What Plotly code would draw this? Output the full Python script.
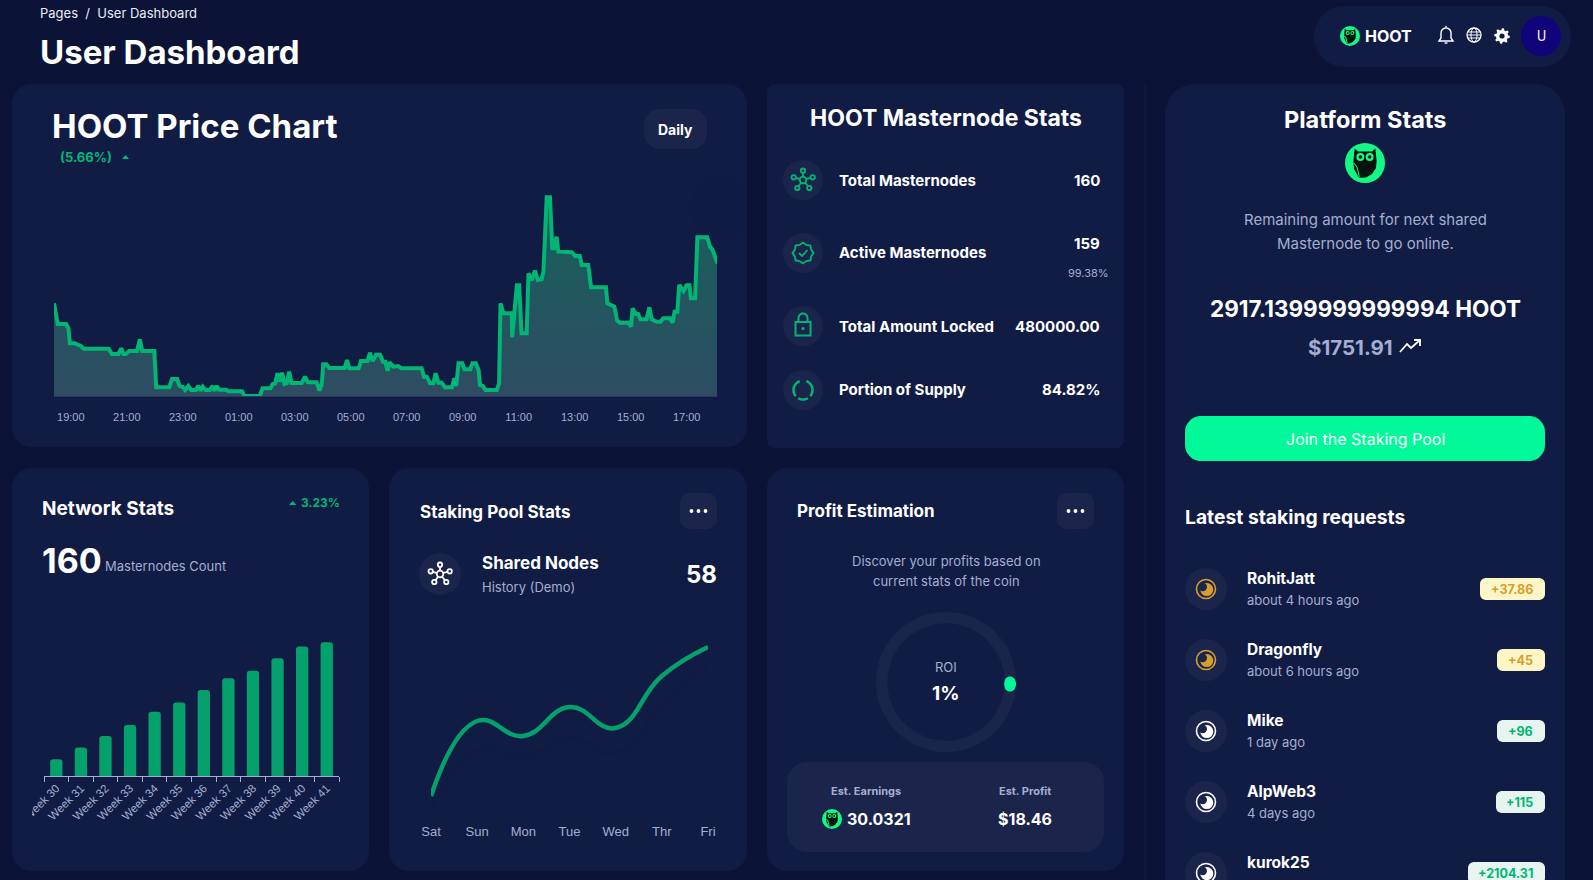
import numpy as np
import plotly.graph_objects as go

W, H = 1593, 880

BG = '#0b1336'
CARD = '#111c44'
PANEL = '#1b254b'
WHITE = '#ffffff'
GRAY = '#a3aed0'
GREEN = '#01b574'
BAR_GREEN = '#04a16c'
NEON = '#01f99a'
FONT = 'Inter'
AXIS_FONT = 'Liberation Sans'

# price chart, minutes after 19:00 and height of the price line
price_minutes = [-36, -28, -10, -5, -2, 9, 16, 21, 28, 81, 88, 102, 108, 113, 118, 125, 142, 148, 153, 179,
                 183, 211, 217, 228, 233, 240, 245, 252, 258, 268, 273, 278, 283, 289, 298, 304, 308, 313, 318, 333,
                 338, 367, 372, 405, 411, 428, 433, 438, 443, 448, 453, 458, 463, 468, 473, 495, 502, 508, 527, 533,
                 538, 541, 548, 554, 587, 592, 597, 617, 622, 636, 641, 647, 654, 663,
                 669, 674, 679, 683, 692, 702, 709, 752, 757, 763, 770, 777, 782, 788, 795, 802, 817, 822, 826, 831,
                 839, 844, 856, 861, 868, 874, 877, 883, 889, 913, 918, 921, 927, 945, 946, 956, 961, 966, 977, 981,
                 988, 995, 1001, 1009, 1013, 1020, 1027, 1032, 1036, 1041, 1045, 1074, 1081, 1091, 1095, 1109, 1115,
                 1147, 1150, 1159, 1165, 1171, 1177, 1195, 1201, 1204, 1211, 1216, 1221, 1234, 1240, 1245, 1256, 1264,
                 1270, 1284, 1290, 1294, 1300, 1304, 1313, 1320, 1326, 1329, 1338, 1343, 1364, 1370, 1375, 1386]
price_values = [92.7, 72, 72, 67.7, 52.7, 52.7, 51, 50.3, 47.3, 47.3, 42, 42, 47.7, 42, 42, 45, 45, 56.7, 45, 45,
                8.7, 8.7, 17, 17, 10, 9.3, 6, 10, 6, 6, 10.3, 5.3, 9.3, 6, 6, 10, 5.3, 10, 6.3, 6.3,
                4.7, 4.7, 0.3, 0, 7.7, 7.7, 12, 12.7, 22.7, 14.3, 23.3, 12, 12.7, 24.3, 13, 13, 19.3, 13.7, 13.7, 5.3,
                12, 31.7, 31.7, 28, 28, 36, 27.7, 27.7, 35, 35, 43.3, 35, 41.3, 41.3,
                34.3, 34.3, 25.3, 33.7, 29.3, 30, 27.7, 27.7, 19.3, 19.3, 12.7, 12.7, 22.7, 13.3, 13.3, 8.7, 8.7, 17.7, 10, 32.7,
                32.7, 26.7, 26.7, 32.7, 32.7, 26, 11, 10, 6, 6, 12.7, 92.7, 82.7, 82.7, 58.7, 110.7, 110.7, 62.7, 62.7, 122.7,
                116, 125.3, 116, 116.7, 124.3, 198.7, 198.7, 147.7, 147.7, 159.3, 144.3, 143.7, 140, 140, 131, 131, 108.7,
                108.7, 92.7, 90, 89.3, 75.3, 73.3, 73.3, 69.3, 87.7, 82, 82, 76.7, 76.7, 88.7, 76.7, 74.3, 74.3,
                77.7, 77.7, 73.3, 84.3, 84.3, 111, 105, 110.7, 110.7, 97.7, 97.7, 158.7, 158.7, 149.3, 146.7, 132.7]
price_tick_minutes = [0, 120, 240, 360, 480, 600, 720, 840, 960, 1080, 1200, 1320]
price_tick_labels = ['19:00', '21:00', '23:00', '01:00', '03:00', '05:00',
                     '07:00', '09:00', '11:00', '13:00', '15:00', '17:00']

weeks = ['Week 30', 'Week 31', 'Week 32', 'Week 33', 'Week 34', 'Week 35',
         'Week 36', 'Week 37', 'Week 38', 'Week 39', 'Week 40', 'Week 41']
masternodes = [20, 34, 48, 61, 77, 88, 103, 117, 126, 141, 155, 160]

weekdays = ['Sat', 'Sun', 'Mon', 'Tue', 'Wed', 'Thr', 'Fri']
shared_nodes = [14, 89, 74, 103, 82, 134, 163]
shared_nodes_prev = [0, 60, 53, 72, 57, 103, 145]

roi_share = [1, 99]

stat_labels = ['Total Masternodes', 'Active Masternodes', 'Total Amount Locked', 'Portion of Supply']
stat_values = ['160', '159', '480000.00', '84.82%']

request_names = ['RohitJatt', 'Dragonfly', 'Mike', 'AlpWeb3', 'kurok25']
request_times = ['about 4 hours ago', 'about 6 hours ago', '1 day ago', '4 days ago', '']
request_amounts = ['+37.86', '+45', '+96', '+115', '+2104.31']

shapes = []
notes = []


def pt(x, y):
    return f'{x / W:.5f},{1 - y / H:.5f}'


def draw(points, fill=None, color=None, width=0, closed=True, layer='below'):
    d = 'M' + 'L'.join(pt(x, y) for x, y in points) + ('Z' if closed else '')
    shapes.append(dict(type='path', xref='paper', yref='paper', path=d, layer=layer,
                       fillcolor=fill or 'rgba(0,0,0,0)',
                       line=dict(color=color or 'rgba(0,0,0,0)', width=width)))


def arc(cx, cy, r, a0, a1, n=14):
    return [(cx + r * np.cos(a), cy + r * np.sin(a)) for a in np.radians(np.linspace(a0, a1, n))]


def rrect(x0, y0, x1, y1, r, fill, layer='below'):
    pts = arc(x1 - r, y0 + r, r, -90, 0) + arc(x1 - r, y1 - r, r, 0, 90) \
        + arc(x0 + r, y1 - r, r, 90, 180) + arc(x0 + r, y0 + r, r, 180, 270)
    draw(pts, fill=fill, layer=layer)


def circle(cx, cy, r, fill=None, color=None, width=0):
    shapes.append(dict(type='circle', xref='paper', yref='paper', layer='below',
                       x0=(cx - r) / W, x1=(cx + r) / W, y0=1 - (cy + r) / H, y1=1 - (cy - r) / H,
                       fillcolor=fill or 'rgba(0,0,0,0)',
                       line=dict(color=color or 'rgba(0,0,0,0)', width=width)))


def text(x, y, s, size, color=WHITE, anchor='left', bold=False, font=FONT):
    notes.append(dict(xref='paper', yref='paper', x=x / W, y=1 - y / H, showarrow=False,
                      text=f'<b>{s}</b>' if bold else s, xanchor=anchor, yanchor='middle',
                      borderpad=0, borderwidth=0,
                      font=dict(family=font, size=size, color=color)))


def owl(cx, cy, r):
    circle(cx, cy, r, fill='#12fa84')
    body = [(-0.52, -0.72), (-0.35, -0.58), (0.35, -0.58), (0.52, -0.72), (0.58, -0.1), (0.55, 0.25),
            (0.35, 0.55), (0.05, 0.72), (-0.3, 0.74), (-0.55, 0.3), (-0.58, -0.1)]
    draw([(cx + a * r, cy + b * r) for a, b in body], fill='#03140e')
    draw([(cx - 0.55 * r, cy), (cx - 0.4 * r, cy + 0.2 * r), (cx - 0.28 * r, cy + 0.7 * r)],
         color='#12fa84', width=1, closed=False)
    for side in (-1, 1):
        circle(cx + side * 0.23 * r, cy - 0.3 * r, 0.2 * r, fill='#12fa84')
        circle(cx + side * 0.23 * r, cy - 0.3 * r, 0.09 * r, fill='#03140e')


def network(cx, cy, color, k=1.0):
    sats = [(0, -9.3), (9.7, -2.7), (6.3, 8), (-5.7, 8), (-9.3, -2.7)]
    for dx, dy in sats:
        draw([(cx + 0.3 * dx * k, cy + 0.3 * dy * k), (cx + 0.75 * dx * k, cy + 0.75 * dy * k)],
             color=color, width=1.8, closed=False)
        circle(cx + dx * k, cy + dy * k, 2.2 * k, color=color, width=1.8)
    circle(cx, cy, 3.3 * k, color=color, width=1.8)


def badge_icon(cx, cy, color):
    ang = np.radians(np.arange(0, 360, 22.5))
    rad = [10.5 if i % 2 == 0 else 8.8 for i in range(16)]
    draw([(cx + r * np.cos(a), cy + r * np.sin(a)) for a, r in zip(ang, rad)], color=color, width=1.8)
    draw([(cx - 4, cy), (cx - 1, cy + 3), (cx + 4.5, cy - 3)], color=color, width=1.8, closed=False)


def lock_icon(cx, cy, color):
    draw([(cx - 7.5, cy - 4), (cx + 7.5, cy - 4), (cx + 7.5, cy + 9.5), (cx - 7.5, cy + 9.5)], color=color, width=2)
    draw(arc(cx, cy - 8, 4.5, 180, 360), color=color, width=2, closed=False)
    draw([(cx - 4.5, cy - 8), (cx - 4.5, cy - 4)], color=color, width=2, closed=False)
    draw([(cx + 4.5, cy - 8), (cx + 4.5, cy - 4)], color=color, width=2, closed=False)
    circle(cx, cy + 2.5, 1.6, fill=color)


def moon(cx, cy, color):
    circle(cx, cy, 9.5, color=color, width=1.6)
    circle(cx + 0.8, cy + 0.6, 6.5, fill=color)
    circle(cx - 3.2, cy - 2, 4.2, fill=PANEL)


def dots_button(x0, x1, y0, y1):
    rrect(x0, y0, x1, y1, 10, PANEL)
    for dx in (-7, 0, 7):
        circle((x0 + x1) / 2 + dx, (y0 + y1) / 2, 1.9, fill=WHITE)


# page and cards
rrect(12, 84, 747, 447, 20, CARD)
rrect(767, 84, 1124, 448, 8, CARD)
rrect(12, 468, 369, 871, 20, CARD)
rrect(389, 468, 747, 871, 20, CARD)
rrect(767, 468, 1124, 871, 20, CARD)
rrect(1165, 84, 1565, 930, 30, CARD)
rrect(1314, 6, 1571, 67, 30, CARD)
draw([(1145, 84), (1145, 880)], color='#141d45', width=1, closed=False)
# faint round decoration on the price card, stops at the card edge
draw([(min(x, 747), y) for x, y in arc(722, 208, 32, 0, 360, 40)], fill='#101b43')

# header
text(40, 13, 'Pages&nbsp;&nbsp;/&nbsp;&nbsp;User Dashboard', 13, color='#e9edf7')
text(40, 52, 'User Dashboard', 33, bold=True)
owl(1350, 36, 10)
text(1365, 36, 'HOOT', 16, bold=True)
# bell
bell = arc(1446, 33, 5, 180, 360) + [(1451, 38), (1453, 41), (1439, 41), (1441, 38)]
draw(bell, color=WHITE, width=1.4)
draw([(1444.5, 43), (1447.5, 43)], color=WHITE, width=1.4, closed=False)
circle(1446, 26.5, 0.8, fill=WHITE)
# globe
circle(1474, 35, 7, color=WHITE, width=1.3)
draw([(1474 + 3 * np.cos(a), 35 + 7 * np.sin(a)) for a in np.radians(np.arange(0, 360, 20))], color=WHITE, width=1)
for dy in (-3, 0, 3):
    draw([(1467.5, 35 + dy), (1480.5, 35 + dy)], color=WHITE, width=1, closed=False)
# gear
gear_a = np.radians(np.arange(0, 360, 7.5))
draw([(1502 + (7.8 if i // 3 % 2 == 0 else 6) * np.cos(a), 36 + (7.8 if i // 3 % 2 == 0 else 6) * np.sin(a))
      for i, a in enumerate(gear_a)], fill=WHITE)
circle(1502, 36, 2.6, fill=CARD)
circle(1541, 36, 20, fill='#11047a')
text(1541, 36, 'U', 14, color='#f4f0d8', anchor='center', font='Roboto')

# price card
text(52, 126, 'HOOT Price Chart', 33, bold=True)
text(60, 157, '(5.66%)', 13, color=GREEN, bold=True)
draw([(122, 159), (129, 159), (125.5, 155)], fill=GREEN)
rrect(644, 109, 707, 149, 16, PANEL)
text(675.5, 129, 'Daily', 14, anchor='center', bold=True)

# masternode card
text(946, 118, 'HOOT Masternode Stats', 23, anchor='center', bold=True)
stat_y = [180, 253, 326, 390]
value_y = [180, 243, 326, 390]
for label, value, y, vy in zip(stat_labels, stat_values, stat_y, value_y):
    circle(803, y, 20, fill=PANEL)
    text(839, y, label, 15, bold=True)
    text(1100, vy, value, 15, anchor='right', bold=True)
text(1109, 273, '99.38%', 11, color=GRAY, anchor='right')
network(803, 180, GREEN)
badge_icon(803, 253, GREEN)
lock_icon(803, 326, GREEN)
for a0, a1 in [(-70, 40), (60, 120), (140, 250)]:
    draw(arc(803, 390, 9.5, a0, a1), color=GREEN, width=2.5, closed=False)

# network stats card
text(42, 508, 'Network Stats', 19, bold=True)
text(340, 503, '3.23%', 12, color=GREEN, anchor='right', bold=True)
draw([(289, 505), (296.5, 505), (292.7, 501)], fill=GREEN)
text(42, 560, '160', 34, bold=True)
text(105, 566, 'Masternodes Count', 13, color=GRAY)

# staking card
text(420, 512, 'Staking Pool Stats', 17, bold=True)
dots_button(680, 717, 493, 529)
circle(440, 574, 21, fill=PANEL)
network(440, 574, WHITE)
text(482, 563, 'Shared Nodes', 17, bold=True)
text(482, 587, 'History (Demo)', 13, color=GRAY)
text(717, 574, '58', 24, anchor='right', bold=True)

# profit card
text(797, 511, 'Profit Estimation', 17, bold=True)
dots_button(1057, 1094, 493, 529)
text(946, 561, 'Discover your profits based on', 13, color=GRAY, anchor='center')
text(946, 581, 'current stats of the coin', 13, color=GRAY, anchor='center')
text(946, 667, 'ROI', 13, color=GRAY, anchor='center')
text(946, 693, '1%', 19, anchor='center', bold=True)
rrect(787, 762, 1104, 852, 20, PANEL)
text(866, 791, 'Est. Earnings', 11, color=GRAY, anchor='center', bold=True)
text(1025, 791, 'Est. Profit', 11, color=GRAY, anchor='center', bold=True)
owl(832, 819, 10)
text(847, 819, '30.0321', 16, bold=True)
text(1025, 819, '$18.46', 16, anchor='center', bold=True)

# platform card
text(1365, 120, 'Platform Stats', 23.5, anchor='center', bold=True)
owl(1365, 163, 20)
text(1365, 219, 'Remaining amount for next shared', 15, color=GRAY, anchor='center')
text(1365, 243, 'Masternode to go online.', 15, color=GRAY, anchor='center')
text(1365, 308, '2917.1399999999994 HOOT', 22.5, anchor='center', bold=True)
text(1393, 347, '$1751.91', 20.5, color=GRAY, anchor='right', bold=True)
draw([(1400, 352), (1407, 344), (1411, 348), (1420, 340)], color=WHITE, width=1.8, closed=False)
draw([(1414, 340), (1420, 340), (1420, 346)], color=WHITE, width=1.8, closed=False)
rrect(1185, 416, 1545, 461, 16, NEON)
text(1365, 439, 'Join the Staking Pool', 16, anchor='center')
text(1185, 517, 'Latest staking requests', 19.3, bold=True)

for i, (name, when, amount) in enumerate(zip(request_names, request_times, request_amounts)):
    y = 589 + 71 * i
    pending = i < 2
    circle(1206, y, 21, fill=PANEL)
    moon(1206, y, '#d69e2e' if pending else WHITE)
    text(1247, y - 11, name, 15.5, bold=True)
    if when:
        text(1247, y + 11, when, 13, color=GRAY)
    left = [1480, 1497, 1497, 1496, 1468][i]
    rrect(left, y - 11, 1545, y + 11, 6, '#fff6c8' if pending else '#e6f5f0')
    text(1533, y, amount, 12.5, color='#d69e2e' if pending else GREEN, anchor='right', bold=True)

# hides the start of the first week label, it is cut off in the page too
rrect(14, 780, 32, 830, 1, CARD, layer='above')

# pill on the ROI ring
rrect(1004.5, 676.5, 1015.5, 691.5, 5.5, NEON, layer='above')

fig = go.Figure()

fig.add_trace(go.Scatter(
    x=price_minutes, y=price_values, mode='lines', fill='tozeroy', cliponaxis=False,
    line=dict(color=GREEN, width=4),
    fillgradient=dict(type='vertical', colorscale=[[0, '#2e4c62'], [1, '#16615c']]),
    hoverinfo='skip', xaxis='x', yaxis='y'))

fig.add_trace(go.Bar(
    x=weeks, y=masternodes, marker=dict(color=BAR_GREEN, cornerradius=3, line=dict(width=0)),
    hoverinfo='skip', xaxis='x2', yaxis='y2'))

fig.add_trace(go.Scatter(
    x=weekdays, y=shared_nodes_prev, mode='lines', cliponaxis=False,
    line=dict(color='#0f1b43', width=4, shape='spline', smoothing=1.3),
    hoverinfo='skip', xaxis='x3', yaxis='y3'))
fig.add_trace(go.Scatter(
    x=weekdays, y=shared_nodes, mode='lines', cliponaxis=False,
    line=dict(color=BAR_GREEN, width=4.5, shape='spline', smoothing=1.3),
    hoverinfo='skip', xaxis='x3', yaxis='y3'))

fig.add_trace(go.Pie(
    values=roi_share, hole=0.838, sort=False, direction='clockwise', rotation=90,
    marker=dict(colors=[NEON, PANEL], line=dict(width=0)), textinfo='none', hoverinfo='skip',
    showlegend=False, domain=dict(x=[876 / W, 1016 / W], y=[1 - 752 / H, 1 - 612 / H])))


def hidden_y(top, bottom, rng):
    return dict(domain=[1 - bottom / H, 1 - top / H], range=rng, visible=False, fixedrange=True, automargin=False)


fig.update_layout(
    width=W, height=H, autosize=False,
    margin=dict(l=0, r=0, t=0, b=0, pad=0),
    paper_bgcolor=BG, plot_bgcolor='rgba(0,0,0,0)',
    showlegend=False, bargap=0.5,
    shapes=shapes, annotations=notes,
    xaxis=dict(domain=[54 / W, 717 / W], range=[-36, 1385], anchor='y', showgrid=False, zeroline=False,
               tickmode='array', tickvals=price_tick_minutes, ticktext=price_tick_labels,
               ticks='outside', ticklen=11, tickcolor='rgba(0,0,0,0)',
               tickfont=dict(family=AXIS_FONT, size=11, color=GRAY), automargin=False,
               showline=True, linecolor='#2a3560', linewidth=1, fixedrange=True),
    yaxis=hidden_y(190, 396, [0, 206]),
    xaxis2=dict(domain=[44 / W, 339 / W], range=[-0.5, 11.5], anchor='y2', showgrid=False, zeroline=False,
                type='category', tickson='boundaries', ticks='outside', ticklen=5, tickcolor=GRAY,
                tickangle=-45, tickfont=dict(family=AXIS_FONT, size=11.5, color=GRAY), dtick=1, automargin=False,
                showline=True, linecolor=GRAY, linewidth=1, fixedrange=True),
    yaxis2=hidden_y(636, 776, [0, 167.6]),
    xaxis3=dict(domain=[431 / W, 708 / W], range=[0, 6], anchor='y3', showgrid=False, zeroline=False,
                type='category', ticks='outside', ticklen=9, tickcolor='rgba(0,0,0,0)',
                tickfont=dict(family=AXIS_FONT, size=13, color=GRAY), automargin=False,
                showline=False, fixedrange=True),
    yaxis3=hidden_y(640, 810, [0, 170]),
)

fig.write_html('out.html', config={'displayModeBar': False},
               post_script='document.body.style.margin="0";document.body.style.overflow="hidden";')
